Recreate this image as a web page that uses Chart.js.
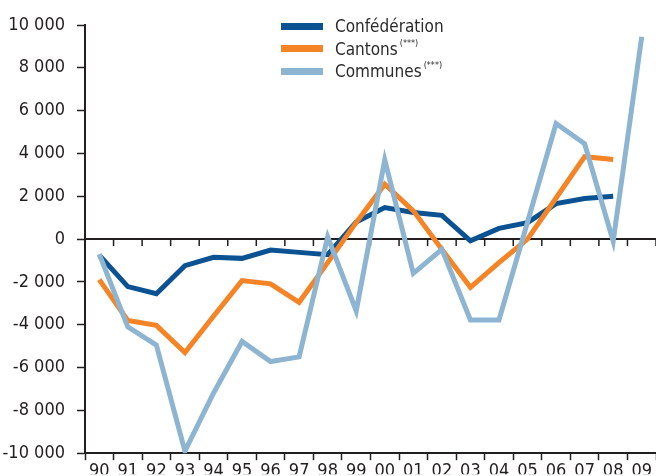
<!DOCTYPE html>
<html>
<head>
<meta charset="utf-8">
<script src="https://cdn.jsdelivr.net/npm/chart.js@4.4.1/dist/chart.umd.min.js"></script>
<style>
  body { margin: 0; background: #fff; }
  #wrap { position: relative; width: 656px; height: 476px; }
  #legend { position: absolute; left: 281px; top: 15px; font-family: 'Liberation Sans Narrow', 'DejaVu Sans Condensed', sans-serif; font-size: 17px; color: #2b2b2b; }
  .item { height: 22.5px; display: flex; align-items: center; }
  .sw { width: 42px; height: 7px; margin-right: 12px; }
  .note { font-size: 9px; position: relative; top: -6px; margin-left: 2px; }
</style>
</head>
<body>
<div id="wrap">
  <canvas id="chart" width="656" height="476"></canvas>
  <div id="legend"></div>
</div>
<script>
var years = ['90','91','92','93','94','95','96','97','98','99','00','01','02','03','04','05','06','07','08','09'];

var confederation = [-750, -2220, -2550, -1240, -850, -900, -510, -620, -730, 800, 1470, 1240, 1110, -80, 500, 770, 1660, 1900, 2000, null];
var cantons = [-1890, -3800, -4030, -5300, -3600, -1940, -2090, -2950, -1100, 780, 2560, 1320, -480, -2250, -1100, 0, 1920, 3850, 3720, null];
var communes = [-700, -4100, -4950, -9900, -7200, -4780, -5720, -5500, 100, -3350, 3700, -1600, -480, -3780, -3780, 800, 5400, 4450, -100, 9450];

var seriesNames = ['Confédération', 'Cantons', 'Communes'];
var seriesNotes = ['', '(***)', '(***)'];
var seriesColors = ['#0a5291', '#f58426', '#8db4d1'];

var yMin = -10000, yMax = 10000, yStep = 2000;

var fontFamily = "'Liberation Sans Narrow', 'DejaVu Sans Condensed', sans-serif";
var axisColor = '#231f20';

function fmt(v) {
    var s = String(Math.abs(v)).replace(/\B(?=(\d{3})+(?!\d))/g, ' ');
    return (v < 0 ? '-' : '') + s;
}

// ligne du zéro avec ses petites graduations
var zeroLine = {
    id: 'zeroLine',
    beforeDatasetsDraw: function (chart) {
        var x = chart.scales.x, y = chart.scales.y, ctx = chart.ctx;
        var y0 = y.getPixelForValue(0);
        var step = x.getPixelForValue(1) - x.getPixelForValue(0);
        ctx.save();
        ctx.strokeStyle = axisColor;
        ctx.lineWidth = 2;
        ctx.beginPath();
        ctx.moveTo(chart.chartArea.left, y0);
        ctx.lineTo(chart.chartArea.right, y0);
        ctx.stroke();
        ctx.lineWidth = 1.5;
        ctx.beginPath();
        for (var i = 0; i <= years.length; i++) {
            var px = x.getPixelForValue(i) - step / 2;
            ctx.moveTo(px, y0);
            ctx.lineTo(px, y0 + 7);
        }
        ctx.stroke();
        ctx.restore();
    }
};

var datasets = [confederation, cantons, communes].map(function (d, i) {
    return {
        label: seriesNames[i],
        data: d,
        borderColor: seriesColors[i],
        backgroundColor: seriesColors[i],
        borderWidth: 5,
        borderJoinStyle: 'miter',
        borderCapStyle: 'butt',
        pointRadius: 0,
        tension: 0,
        fill: false,
        order: 3 - i
    };
});

var chart = new Chart(document.getElementById('chart').getContext('2d'), {
    type: 'line',
    data: { labels: years, datasets: datasets },
    options: {
        responsive: false,
        animation: false,
        layout: { padding: { top: 25, left: 0, right: 0, bottom: 0 } },
        plugins: { legend: { display: false }, tooltip: { enabled: false } },
        scales: {
            x: {
                offset: true,
                grid: { offset: true, drawOnChartArea: false, tickLength: 7, tickColor: axisColor, tickWidth: 1.5 },
                border: { color: axisColor, width: 2 },
                ticks: { font: { family: fontFamily, size: 18 }, color: axisColor, padding: 0, maxRotation: 0, autoSkip: false },
                afterFit: function (s) { s.height = 21; }
            },
            y: {
                min: yMin,
                max: yMax,
                grid: { drawOnChartArea: false, tickLength: 8, tickColor: axisColor, tickWidth: 1.5 },
                border: { color: axisColor, width: 2 },
                ticks: { stepSize: yStep, padding: 12, font: { family: fontFamily, size: 18 }, color: axisColor, callback: function (v) { return fmt(v); } },
                afterFit: function (s) { s.width = 85; }
            }
        }
    },
    plugins: [zeroLine]
});

var legend = document.getElementById('legend');
chart.data.datasets.slice().sort(function (a, b) { return b.order - a.order; }).forEach(function (ds) {
    var row = document.createElement('div');
    row.className = 'item';
    var sw = document.createElement('span');
    sw.className = 'sw';
    sw.style.background = ds.borderColor;
    row.appendChild(sw);
    var t = document.createElement('span');
    t.textContent = ds.label;
    row.appendChild(t);
    var note = seriesNotes[seriesNames.indexOf(ds.label)];
    if (note) {
        var n = document.createElement('span');
        n.className = 'note';
        n.textContent = note;
        row.appendChild(n);
    }
    legend.appendChild(row);
});
</script>
</body>
</html>
